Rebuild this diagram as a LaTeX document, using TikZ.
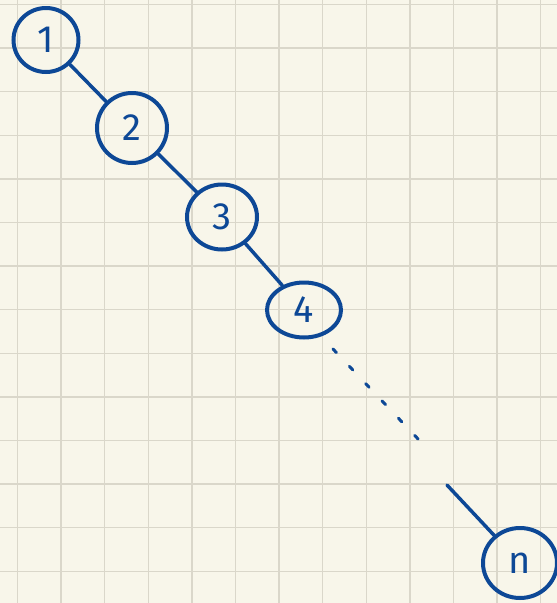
\documentclass[tikz,border=0pt]{standalone}
\usepackage{fontspec}
\setmainfont{Fira Sans}
\usetikzlibrary{shapes.geometric}
\definecolor{paper}{HTML}{F8F6EA}
\definecolor{gridc}{HTML}{DAD7CA}
\definecolor{ink}{HTML}{0D4896}
\tikzset{
  bubble/.style={draw=ink, line width=4pt, ellipse, inner sep=0pt, text=ink,
    font=\fontsize{38}{40}\selectfont},
  link/.style={draw=ink, line width=3.5pt, line cap=round},
}
\begin{document}
\begin{tikzpicture}[x=1pt,y=-1pt]
\fill[paper] (0,0) rectangle (557,603);
\useasboundingbox (0,0) rectangle (557,603);
\foreach \k in {0,...,12} {
  \draw[gridc, line width=1.5pt] ({17.5+43.6*\k},0) -- ({17.5+43.6*\k},603);
}
\foreach \k in {0,...,13} {
  \draw[gridc, line width=1.5pt] (0,{4.5+43.6*\k}) -- (557,{4.5+43.6*\k});
}
\node[bubble, minimum width=65pt, minimum height=64pt] (n1) at (46,40) {1};
\node[bubble, minimum width=70pt, minimum height=70pt] (n2) at (132,128) {2};
\node[bubble, minimum width=70pt, minimum height=65pt] (n3) at (222,217) {3};
\node[bubble, minimum width=74pt, minimum height=55pt] (n4) at (304,310) {4};
\node[bubble, minimum width=74pt, minimum height=70pt] (nn) at (520,563) {n};
\coordinate (d0) at (333,349);
\coordinate (d1) at (419,440);
\coordinate (s0) at (447,485);
\draw[link] (n1) -- (n2);
\draw[link] (n2) -- (n3);
\draw[link] (n3) -- (n4);
\draw[link, line width=3pt, dash pattern=on 5pt off 18.8pt] (d0) -- (d1);
\draw[link] (s0) -- (nn);
\end{tikzpicture}
\end{document}
